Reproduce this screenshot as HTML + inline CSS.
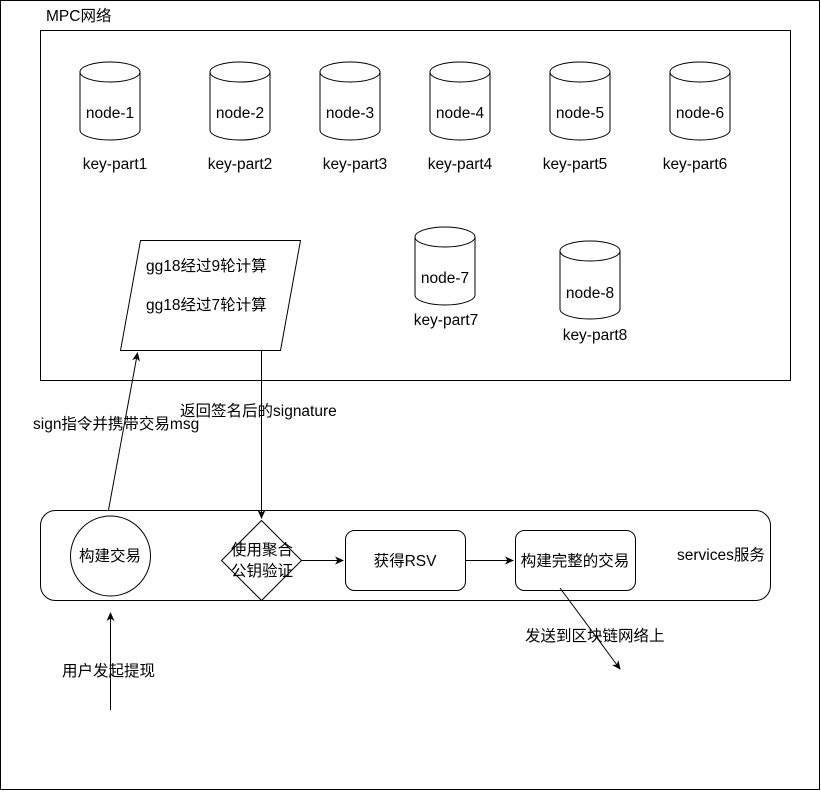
<!DOCTYPE html>
<html><head><meta charset="utf-8"><style>
html,body{margin:0;padding:0;background:#fff;}
svg text{font-family:"Liberation Sans","Noto Sans CJK SC",sans-serif;font-size:15.5px;fill:#000;}
</style></head><body>
<svg width="821" height="791" viewBox="0 0 821 791" xmlns="http://www.w3.org/2000/svg">
<defs>
<marker id="a" markerWidth="10" markerHeight="10" refX="8" refY="5" orient="auto" markerUnits="userSpaceOnUse">
<path d="M0,1 L9,5 L0,9 L2.5,5 Z" fill="#000"/></marker>
</defs>
<g fill="none" stroke="#000" stroke-width="1">
<rect x="0.5" y="0.5" width="819" height="789"/>
<rect x="40.5" y="30.5" width="750" height="350"/>
</g>
<text x="46" y="21">MPC网络</text>
<g fill="#fff" stroke="#000" stroke-width="1">
<path d="M80,72 a30,10 0 0 1 60,0 v58 a30,10 0 0 1 -60,0 Z"/><path d="M80,72 a30,10 0 0 0 60,0" fill="none"/>
<path d="M210,72 a30,10 0 0 1 60,0 v58 a30,10 0 0 1 -60,0 Z"/><path d="M210,72 a30,10 0 0 0 60,0" fill="none"/>
<path d="M320,72 a30,10 0 0 1 60,0 v58 a30,10 0 0 1 -60,0 Z"/><path d="M320,72 a30,10 0 0 0 60,0" fill="none"/>
<path d="M430,72 a30,10 0 0 1 60,0 v58 a30,10 0 0 1 -60,0 Z"/><path d="M430,72 a30,10 0 0 0 60,0" fill="none"/>
<path d="M550,72 a30,10 0 0 1 60,0 v58 a30,10 0 0 1 -60,0 Z"/><path d="M550,72 a30,10 0 0 0 60,0" fill="none"/>
<path d="M670,72 a30,10 0 0 1 60,0 v58 a30,10 0 0 1 -60,0 Z"/><path d="M670,72 a30,10 0 0 0 60,0" fill="none"/>
<path d="M415,237 a30,10 0 0 1 60,0 v58 a30,10 0 0 1 -60,0 Z"/><path d="M415,237 a30,10 0 0 0 60,0" fill="none"/>
<path d="M560,251 a30,10 0 0 1 60,0 v58 a30,10 0 0 1 -60,0 Z"/><path d="M560,251 a30,10 0 0 0 60,0" fill="none"/>
</g>
<g text-anchor="middle">
<text x="110" y="118">node-1</text><text x="240" y="118">node-2</text><text x="350" y="118">node-3</text>
<text x="460" y="118">node-4</text><text x="580" y="118">node-5</text><text x="700" y="118">node-6</text>
<text x="445" y="283">node-7</text><text x="590" y="298">node-8</text>
<text x="115" y="169">key-part1</text><text x="240" y="169">key-part2</text><text x="355" y="169">key-part3</text>
<text x="460" y="169">key-part4</text><text x="575" y="169">key-part5</text><text x="695" y="169">key-part6</text>
<text x="446" y="325">key-part7</text><text x="595" y="340">key-part8</text>
</g>
<path d="M140.5,240.5 L300.5,240.5 L280.5,350.5 L120.5,350.5 Z" fill="none" stroke="#000"/>
<text x="146" y="271">gg18经过9轮计算</text>
<text x="146" y="310">gg18经过7轮计算</text>
<rect x="40.5" y="510.5" width="730" height="90" rx="15" fill="none" stroke="#000"/>
<circle cx="110.5" cy="556" r="40" fill="none" stroke="#000"/>
<text x="110" y="561" text-anchor="middle">构建交易</text>
<path d="M261.5,520.5 L301.5,560.5 L261.5,600.5 L221.5,560.5 Z" fill="none" stroke="#000"/>
<text x="262" y="555" text-anchor="middle">使用聚合</text>
<text x="262" y="576" text-anchor="middle">公钥验证</text>
<rect x="345.5" y="530.5" width="120" height="60" rx="9" fill="none" stroke="#000"/>
<text x="405" y="566" text-anchor="middle">获得RSV</text>
<rect x="515.5" y="530.5" width="120" height="60" rx="9" fill="none" stroke="#000"/>
<text x="575" y="566" text-anchor="middle">构建完整的交易</text>
<text x="677" y="560">services服务</text>
<g fill="none" stroke="#000" stroke-width="1">
<line x1="108.5" y1="510" x2="137.5" y2="353" marker-end="url(#a)"/>
<line x1="261.5" y1="350.5" x2="261.5" y2="518" marker-end="url(#a)"/>
<line x1="301.5" y1="560.5" x2="343" y2="560.5" marker-end="url(#a)"/>
<line x1="465.5" y1="560.5" x2="513" y2="560.5" marker-end="url(#a)"/>
<line x1="560" y1="588" x2="620" y2="669" marker-end="url(#a)"/>
<line x1="110.5" y1="710" x2="110.5" y2="613" marker-end="url(#a)"/>
</g>
<text x="33" y="429">sign指令并携带交易msg</text>
<text x="180" y="416">返回签名后的signature</text>
<text x="525" y="641">发送到区块链网络上</text>
<text x="62" y="676">用户发起提现</text>
</svg>
</body></html>
